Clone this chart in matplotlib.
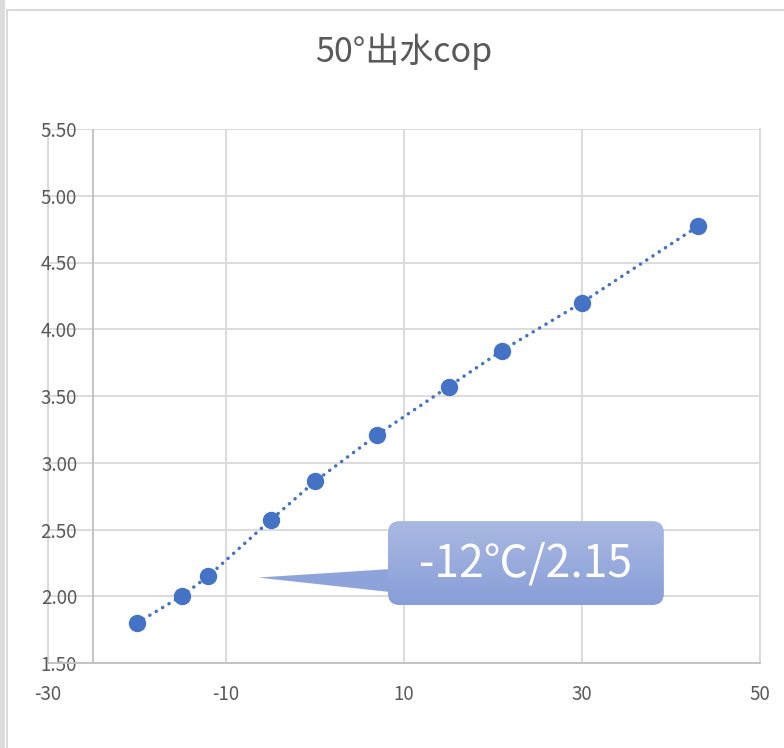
import matplotlib
matplotlib.use('Agg')
import matplotlib.pyplot as plt
import numpy as np
from matplotlib.patches import FancyBboxPatch, Polygon, Rectangle
from matplotlib.lines import Line2D
from matplotlib.colors import LinearSegmentedColormap

plt.rcParams['font.family'] = ['Noto Sans CJK SC', 'DejaVu Sans']

# data
temps = [-20, -15, -12, -5, 0, 7, 15, 21, 30, 43]
cop = [1.80, 2.00, 2.15, 2.57, 2.86, 3.21, 3.57, 3.84, 4.20, 4.77]
x_ticks = [-30, -10, 10, 30, 50]
y_ticks = [1.5, 2.0, 2.5, 3.0, 3.5, 4.0, 4.5, 5.0, 5.5]
hl = 2  # highlighted point for the callout

W, H = 784, 748
TXT = '#595959'
fig = plt.figure(figsize=(W / 100, H / 100), dpi=100)

# chart frame
fig.add_artist(Rectangle((0, 0), 5 / W, 1, transform=fig.transFigure,
                         color='#dcdcdc', lw=0))
fig.add_artist(Line2D([7 / W, 7 / W], [0, 1 - 10 / H], transform=fig.transFigure,
                      color='#d9d9d9', lw=1.5))
fig.add_artist(Line2D([7 / W, 1], [1 - 10 / H, 1 - 10 / H], transform=fig.transFigure,
                      color='#d9d9d9', lw=1.5))

ax = fig.add_axes([48 / W, 1 - 663 / H, (760 - 48) / W, (663 - 129) / H])
ax.set_xlim(-30, 50)
ax.set_ylim(1.5, 5.5)
ax.set_xticks(x_ticks)
ax.set_yticks(y_ticks)
ax.set_xticklabels([str(v) for v in x_ticks])
ax.set_yticklabels([f'{v:.2f}' for v in y_ticks])
ax.grid(True, color='#d9d9d9', lw=1.3, zorder=0)
ax.set_axisbelow(True)
for s in ['top', 'right', 'left']:
    ax.spines[s].set_visible(False)
ax.spines['bottom'].set_color('#bfbfbf')
ax.spines['bottom'].set_linewidth(1.3)
ax.axvline(-30, color='#d9d9d9', lw=1.3, zorder=0, clip_on=False)
ax.axvline(50, color='#d9d9d9', lw=1.3, zorder=0, clip_on=False)
ax.axvline(-25, color='#bfbfbf', lw=1.3, zorder=1)
ax.tick_params(axis='both', length=0, labelsize=13.5, labelcolor=TXT)
ax.tick_params(axis='y', pad=-21)
ax.tick_params(axis='x', pad=15)

ax.plot(temps, cop, linestyle=(0, (0.05, 2.1)), dash_capstyle='round',
        color='#4472C4', lw=2.5, zorder=3)
ax.plot(temps, cop, 'o', color='#4472C4', markersize=11.5, zorder=4)

# callout
x0, x1, y0, y1 = 8.2, 39.2, 1.934, 2.563
tri = Polygon([(-6.4, 2.14), (8.5, 2.204), (8.5, 2.031)], closed=True,
              facecolor='#8ea3da', edgecolor='none', zorder=5)
ax.add_patch(tri)
box = FancyBboxPatch((x0, y0), x1 - x0, y1 - y0,
                     boxstyle='round,pad=0,rounding_size=1.35',
                     mutation_aspect=0.0667, facecolor='none', edgecolor='none', zorder=5)
ax.add_patch(box)
cmap = LinearSegmentedColormap.from_list('callout', ['#aab9e2', '#889ed8'])
grad = np.linspace(0, 1, 256).reshape(-1, 1)
im = ax.imshow(grad, cmap=cmap, extent=[x0, x1, y0, y1], origin='upper',
               aspect='auto', zorder=6)
im.set_clip_path(box)
ax.set_xlim(-30, 50)
ax.set_ylim(1.5, 5.5)
ax.text((x0 + x1) / 2, (y0 + y1) / 2, f'{temps[hl]}℃/{cop[hl]:.2f}',
        color='white', fontsize=32, ha='center', va='center', zorder=7)

fig.text(404 / W, 1 - 52 / H, '50°出水cop', ha='center', va='center',
         fontsize=24.5, color=TXT)

fig.savefig('out.png', dpi=100)
